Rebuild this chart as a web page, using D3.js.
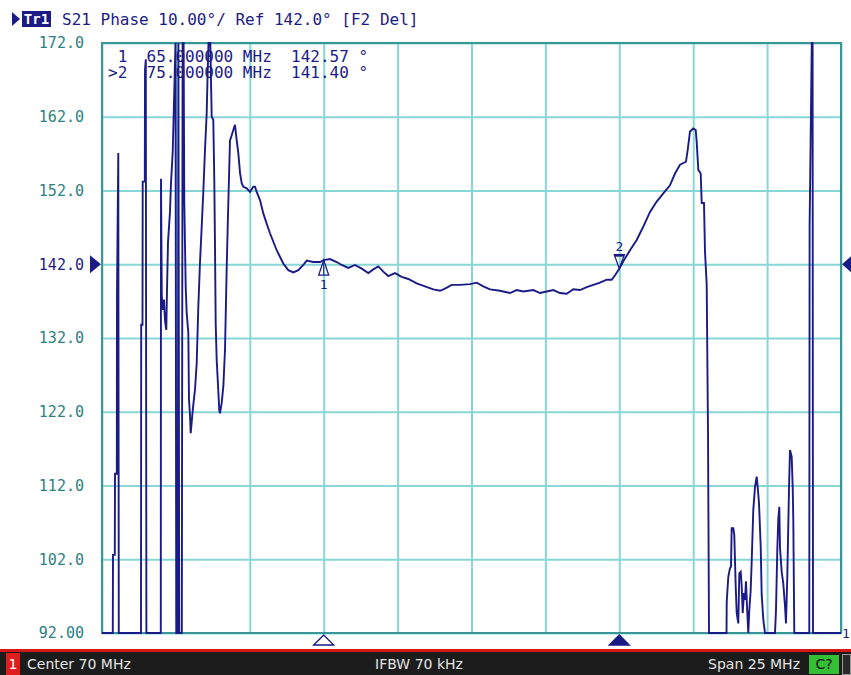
<!DOCTYPE html>
<html>
<head>
<meta charset="utf-8">
<script src="https://cdn.jsdelivr.net/npm/d3@7"></script>
<style>
body { margin: 0; background: #fff; }
svg text { font-family: "DejaVu Sans Mono", monospace; }
</style>
</head>
<body>
<script>
// sweep: center 70 MHz, span 25 MHz
var xGrid = [57.5, 60, 62.5, 65, 67.5, 70, 72.5, 75, 77.5, 80, 82.5];
var yTicks = [92, 102, 112, 122, 132, 142, 152, 162, 172];
var yTickLabels = ["92.00", "102.0", "112.0", "122.0", "132.0", "142.0", "152.0", "162.0", "172.0"];
var refLevel = 142;

// trace points (MHz / deg), off-scale values get clipped to the grid edge
var traceFreq = [
  57.500, 57.865, 57.872, 57.933, 57.940, 58.001, 58.007, 58.051, 58.068,
  58.819, 58.826, 58.870, 58.877, 58.948, 58.955, 58.982, 59.002,
  59.489, 59.496, 59.523, 59.564, 59.597, 59.631, 59.675, 59.699, 59.733, 59.800, 59.834, 59.892, 59.936, 59.986,
  60.014, 60.064, 60.085, 60.112, 60.200, 60.227, 60.261,
  60.284, 60.332, 60.365, 60.420, 60.443, 60.477, 60.501, 60.579, 60.646, 60.704, 60.758, 60.815, 60.873, 60.927, 60.984, 61.042, 61.076, 61.103,
  61.164, 61.211, 61.265, 61.299, 61.323, 61.346, 61.380, 61.434, 61.468, 61.492, 61.549, 61.604, 61.661, 61.719, 61.773, 61.830, 61.888, 61.942, 61.999,
  62.057, 62.111, 62.169, 62.226, 62.280, 62.395, 62.507, 62.618, 62.676, 62.733, 62.845, 62.957, 63.072, 63.183,
  63.410, 63.633, 63.802, 63.972, 64.141, 64.310, 64.425, 64.648, 64.875, 65.000, 65.213, 65.440, 65.609, 65.832, 66.059, 66.286,
  66.509, 66.678, 66.847, 67.016, 67.185, 67.412, 67.639, 67.862, 68.146, 68.427, 68.708, 68.934, 69.104, 69.330, 69.611, 69.949,
  70.176, 70.399, 70.626, 70.964, 71.302, 71.529, 71.752, 72.091, 72.317, 72.544, 72.767, 72.994, 73.221, 73.444, 73.671, 73.897,
  74.121, 74.347, 74.574, 74.743, 74.855, 75.000, 75.135, 75.362, 75.589, 75.700, 75.812, 76.039, 76.265, 76.489, 76.715, 76.884,
  77.054, 77.256, 77.314, 77.392, 77.503, 77.585, 77.618, 77.673, 77.754, 77.788, 77.865, 77.899, 77.957, 78.001, 78.035,
  78.627, 78.634, 78.687, 78.745, 78.779, 78.802, 78.857, 78.890, 78.938, 78.972, 79.026, 79.060, 79.107, 79.141, 79.175, 79.219,
  79.252, 79.286, 79.330, 79.364, 79.398, 79.445, 79.479, 79.533, 79.591, 79.648, 79.682, 79.726, 79.784, 79.817, 79.872, 79.929,
  80.267, 80.301, 80.345, 80.379, 80.413, 80.437, 80.494, 80.548, 80.606, 80.639, 80.683, 80.741, 80.775, 80.832, 80.866, 80.886, 80.920,
  81.427, 81.438, 81.512, 81.539, 81.553, 82.500
];
var tracePhase = [
  88, 88, 102.6, 102.6, 113.6, 113.6, 137.8, 157.1, 88,
  88, 133.8, 133.8, 153.2, 153.2, 168.3, 169.8, 88,
  88, 153.6, 137.6, 135.8, 137.2, 134.4, 133.1, 138.5, 145.0, 149.1, 153.0, 157.2, 164.0, 176,
  88, 88, 176, 88, 88, 176, 176,
  150.3, 138.9, 135.4, 132.7, 123.6, 121.6, 119.1, 122.6, 125.0, 128.6, 136.2, 142.2, 147.1, 151.8, 157.5, 162.5, 168.3, 176,
  176, 162.0, 161.6, 153.4, 144.3, 134.0, 129.0, 124.9, 122.2, 121.8, 123.2, 125.4, 130.4, 141.6, 150.3, 158.8, 159.5, 160.2, 160.9,
  158.8, 157.1, 154.4, 153.0, 152.5, 152.3, 151.8, 152.5, 152.5, 151.8, 150.7, 148.9, 147.5, 146.2,
  143.9, 142.1, 141.2, 140.9, 141.2, 141.9, 142.5, 142.3, 142.3, 142.57, 142.7, 142.3, 141.9, 141.5, 141.9, 141.4,
  140.8, 141.3, 141.7, 141.0, 140.4, 140.8, 140.3, 140.0, 139.4, 139.0, 138.6, 138.4, 138.7, 139.2, 139.2, 139.3,
  139.5, 139.0, 138.6, 138.4, 138.1, 138.5, 138.3, 138.5, 138.1, 138.3, 138.5, 138.1, 138.0, 138.6, 138.5, 138.9,
  139.2, 139.5, 139.9, 139.9, 140.5, 141.40, 142.4, 143.9, 145.3, 146.2, 147.1, 149.1, 150.5, 151.6, 152.7, 154.3,
  155.5, 155.9, 157.5, 160.0, 160.4, 160.2, 158.6, 154.8, 154.3, 150.3, 150.3, 143.7, 139.2, 119.1, 88,
  88, 96.2, 99.6, 100.8, 101.0, 106.2, 106.2, 105.3, 98.3, 94.7, 93.3, 100.1, 100.3, 98.3, 94.7, 97.4,
  96.5, 99.0, 94.7, 88, 95.1, 97.8, 101.7, 108.7, 111.8, 113.2, 111.8, 109.6, 103.7, 97.2, 93.8, 88,
  88, 95.1, 103.3, 107.5, 109.1, 103.5, 100.3, 98.7, 95.6, 93.3, 99.6, 111.6, 116.8, 115.9, 111.8, 107.5, 88,
  88, 147.3, 176, 176, 88, 88
];

var markerNames = ["1", "2"];
var markerFreq = [65, 75];
var markerPhase = [142.57, 141.40];
var activeMarker = 1;

var W = 851, H = 675;
var plotL = 102, plotR = 841, plotT = 43, plotB = 633;
var navy = "#1b1b86", teal = "#2b8282";

if (traceFreq.length != tracePhase.length) console.error("trace length mismatch", traceFreq.length, tracePhase.length);
var n = Math.min(traceFreq.length, tracePhase.length);
var trace = d3.range(n).map(function (i) { return [traceFreq[i], tracePhase[i]]; });

var svg = d3.select("body").append("svg").attr("width", W).attr("height", H);

var x = d3.scaleLinear().domain([57.5, 82.5]).range([plotL, plotR]);
var y = d3.scaleLinear().domain([92, 172]).range([plotB, plotT]).clamp(true);

// vertical grid
svg.append("g")
    .attr("transform", "translate(0," + plotB + ")")
    .call(d3.axisBottom(x).tickValues(xGrid).tickSize(-(plotB - plotT)).tickFormat(""))
    .call(function (g) { g.select(".domain").remove(); })
    .selectAll("line").attr("stroke", "#88d7d7").attr("stroke-width", 2);

// horizontal grid + labels
var yAxis = svg.append("g")
    .attr("transform", "translate(" + plotL + ",0)")
    .call(d3.axisLeft(y).tickValues(yTicks).tickSize(-(plotR - plotL)).tickPadding(18)
        .tickFormat(function (d, i) { return yTickLabels[i]; }));
yAxis.select(".domain").remove();
yAxis.selectAll("line").attr("stroke", "#88d7d7").attr("stroke-width", 2);
yAxis.selectAll("text")
    .attr("font-size", 15)
    .attr("font-family", "DejaVu Sans Mono")
    .attr("fill", function (d) { return d == refLevel ? navy : teal; });

// frame
svg.append("rect")
    .attr("x", plotL).attr("y", plotT)
    .attr("width", plotR - plotL).attr("height", plotB - plotT)
    .attr("fill", "none").attr("stroke", "#3a9696").attr("stroke-width", 2);

// trace
var line = d3.line()
    .x(function (d) { return x(d[0]); })
    .y(function (d) { return y(d[1]); });
svg.append("path")
    .datum(trace)
    .attr("d", line)
    .attr("fill", "none")
    .attr("stroke", navy)
    .attr("stroke-width", 1.9)
    .attr("stroke-linejoin", "miter");

// reference arrows
var yr = y(refLevel);
svg.append("path").attr("d", "M90," + (yr - 9) + "L101," + yr + "L90," + (yr + 9) + "Z").attr("fill", navy);
svg.append("path").attr("d", "M852," + (yr - 9) + "L842," + yr + "L852," + (yr + 9) + "Z").attr("fill", navy);

// markers on the trace
markerFreq.forEach(function (f, i) {
    var mx = x(f), my = y(markerPhase[i]);
    if (i == activeMarker) {
        svg.append("path").attr("d", "M" + (mx - 5) + "," + (my - 14) + "L" + (mx + 5) + "," + (my - 14) + "L" + mx + "," + my + "Z")
            .attr("fill", "none").attr("stroke", navy).attr("stroke-width", 1.3);
        svg.append("line").attr("x1", mx - 5).attr("x2", mx + 5).attr("y1", my - 13).attr("y2", my - 13)
            .attr("stroke", navy).attr("stroke-width", 2);
        svg.append("text").attr("x", mx).attr("y", my - 18).attr("text-anchor", "middle")
            .attr("font-size", 13).attr("fill", navy).text(markerNames[i]);
    } else {
        svg.append("path").attr("d", "M" + (mx - 5) + "," + (my + 15) + "L" + (mx + 5) + "," + (my + 15) + "L" + mx + "," + my + "Z")
            .attr("fill", "none").attr("stroke", navy).attr("stroke-width", 1.3);
        svg.append("line").attr("x1", mx).attr("x2", mx).attr("y1", my + 3).attr("y2", my + 15)
            .attr("stroke", navy).attr("stroke-width", 1);
        svg.append("text").attr("x", mx).attr("y", my + 29).attr("text-anchor", "middle")
            .attr("font-size", 13).attr("fill", navy).text(markerNames[i]);
    }
    // marker position on the bottom edge
    svg.append("path")
        .attr("d", "M" + (mx - 10) + "," + (plotB + 12) + "L" + mx + "," + (plotB + 2) + "L" + (mx + 10) + "," + (plotB + 12) + "Z")
        .attr("fill", i == activeMarker ? navy : "#fff")
        .attr("stroke", navy).attr("stroke-width", 1.3);
});

// marker readout
markerFreq.forEach(function (f, i) {
    var lbl = (i == activeMarker ? ">" : " ") + markerNames[i] + "  " + f.toFixed(6) + " MHz  " + markerPhase[i].toFixed(2) + " \u00b0";
    svg.append("text").attr("x", 108).attr("y", 62 + i * 16)
        .attr("font-size", 16).attr("fill", navy)
        .style("white-space", "pre").text(lbl);
});

// header
svg.append("path").attr("d", "M12,12L20,19L12,26Z").attr("fill", navy);
svg.append("rect").attr("x", 22).attr("y", 11).attr("width", 29).attr("height", 16).attr("fill", navy);
svg.append("text").attr("x", 36.5).attr("y", 24).attr("text-anchor", "middle")
    .attr("font-size", 14).attr("font-weight", "bold").attr("fill", "#fff").text("Tr1");
svg.append("text").attr("x", 62).attr("y", 25).attr("font-size", 16).attr("fill", navy)
    .style("white-space", "pre").text("S21 Phase 10.00\u00b0/ Ref 142.0\u00b0 [F2 Del]");

// trace number at right edge
svg.append("text").attr("x", 842).attr("y", 638).attr("font-size", 13).attr("fill", navy).text("1");

// status bar
svg.append("rect").attr("x", 0).attr("y", 649).attr("width", W).attr("height", 3).attr("fill", "#d81818");
svg.append("rect").attr("x", 0).attr("y", 652).attr("width", W).attr("height", 23).attr("fill", "#1c1c1c");
svg.append("rect").attr("x", 6).attr("y", 653).attr("width", 14).attr("height", 22).attr("fill", "#e01c1c");
var bar = svg.append("g").attr("font-size", 14).attr("fill", "#e4e4e4");
bar.append("text").attr("x", 13).attr("y", 669).attr("text-anchor", "middle").attr("fill", "#fff")
    .style("font-family", "DejaVu Sans").text("1");
bar.append("text").attr("x", 27).attr("y", 669).style("font-family", "DejaVu Sans").text("Center 70 MHz");
bar.append("text").attr("x", 419).attr("y", 669).attr("text-anchor", "middle").style("font-family", "DejaVu Sans").text("IFBW 70 kHz");
bar.append("text").attr("x", 800).attr("y", 669).attr("text-anchor", "end").style("font-family", "DejaVu Sans").text("Span 25 MHz");
svg.append("rect").attr("x", 809).attr("y", 655).attr("width", 30).attr("height", 19).attr("fill", "#34c034");
svg.append("text").attr("x", 824).attr("y", 669).attr("text-anchor", "middle").attr("font-size", 14)
    .style("font-family", "DejaVu Sans").attr("fill", "#111").text("C?");
svg.append("rect").attr("x", 842.5).attr("y", 654.5).attr("width", 8).attr("height", 20)
    .attr("fill", "#2a2a2a").attr("stroke", "#999").attr("stroke-width", 1);
</script>
</body>
</html>
